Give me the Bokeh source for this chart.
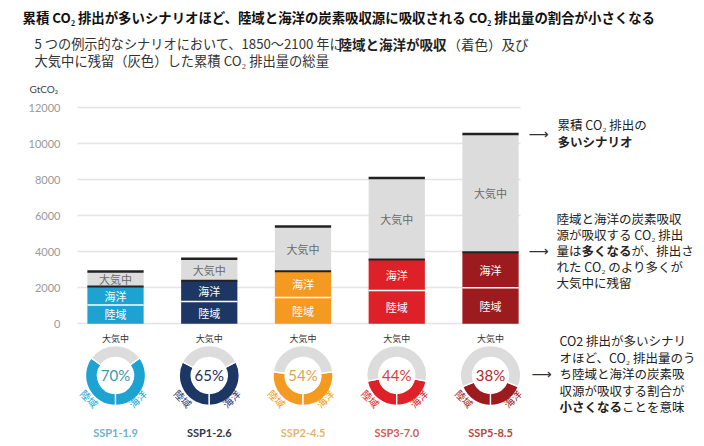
import math
from bokeh.plotting import figure
from bokeh.models import Label, Range1d, ColumnDataSource, Grid
from bokeh.core.properties import value
from bokeh.embed import file_html
from bokeh.resources import INLINE

# ---------------- data ----------------
scenarios = ["SSP1-1.9", "SSP1-2.6", "SSP2-4.5", "SSP3-7.0", "SSP5-8.5"]
land = [1050, 1240, 1460, 1850, 2000]          # GtCO2 absorbed by land
ocean = [1020, 1150, 1460, 1720, 1980]         # GtCO2 absorbed by ocean
atmosphere = [830, 1220, 2480, 4530, 6570]     # GtCO2 remaining in atmosphere
sink_pct = [70, 65, 54, 44, 38]                # % absorbed by land + ocean
y_ticks = [0, 2000, 4000, 6000, 8000, 10000, 12000]

bar_colors = ["#1ca3d2", "#1d3765", "#f49a21", "#de2128", "#9b1b1e"]
pct_colors = ["#3899b2", "#25304d", "#d7a45a", "#d9403d", "#a8292a"]
name_colors = ["#6ab4c8", "#2c374f", "#e6b468", "#d65a55", "#b4473f"]
ATM_COLOR = "#dcdcdc"

JP = "Noto Sans CJK JP"

# ---------------- layout (page pixels) ----------------
W, H = 704, 446
GRID_L, GRID_R = 77, 520
X0_PAGE, X_STEP = 115.0, 93.75
Y0_PAGE, PX_PER_UNIT = 323.3, 36.0 / 2000.0


def xdata(px):
    return (px - X0_PAGE) / X_STEP


def ydata(py):
    return (Y0_PAGE - py) / PX_PER_UNIT


p = figure(width=W, height=H,
           x_range=Range1d(xdata(0), xdata(W)),
           y_range=Range1d(ydata(H), ydata(0)),
           output_backend="svg", toolbar_location=None,
           x_axis_type=None,
           min_border_left=0, min_border_right=0,
           min_border_top=0, min_border_bottom=0)
p.outline_line_color = None
p.background_fill_color = "white"
p.border_fill_color = "white"

ax = p.yaxis[0]
ax.ticker = y_ticks
ax.fixed_location = xdata(GRID_L)
ax.axis_line_color = None
ax.major_tick_line_color = None
ax.minor_tick_line_color = None
ax.major_tick_out = 0
ax.major_label_standoff = 17
ax.major_label_text_font = "Lato"
ax.major_label_text_font_size = "11px"
ax.major_label_text_color = "#9a9a9a"

grid = p.ygrid[0]
grid.ticker = y_ticks
grid.grid_line_color = "#e4e4e4"
grid.grid_line_width = 1.5
if "cross_bounds" in Grid.properties():
    grid.cross_bounds = (xdata(GRID_L), xdata(GRID_R))
else:
    grid.visible = False
    p.segment(x0=[xdata(GRID_L)] * len(y_ticks), x1=[xdata(GRID_R)] * len(y_ticks),
              y0=y_ticks, y1=y_ticks, line_color="#e4e4e4", line_width=1.5)

# ---------------- stacked bars ----------------
xs = list(range(len(scenarios)))
land_top = land[:]
ocean_top = [l + o for l, o in zip(land, ocean)]
total = [s + a for s, a in zip(ocean_top, atmosphere)]
BW = 0.6
src = ColumnDataSource(dict(
    x=xs, land_top=land_top, ocean_top=ocean_top, total=total,
    color=bar_colors,
    land_mid=[t / 2 for t in land_top],
    ocean_mid=[(a + b) / 2 for a, b in zip(land_top, ocean_top)],
    atm_mid=[(a + b) / 2 for a, b in zip(ocean_top, total)],
    x0=[x - BW / 2 for x in xs], x1=[x + BW / 2 for x in xs],
    land_lab=["陸域"] * 5, ocean_lab=["海洋"] * 5, atm_lab=["大気中"] * 5,
))
p.vbar(x="x", bottom=0, top="land_top", width=BW, fill_color="color", line_color=None, source=src)
p.vbar(x="x", bottom="land_top", top="ocean_top", width=BW, fill_color="color", line_color=None, source=src)
p.vbar(x="x", bottom="ocean_top", top="total", width=BW, fill_color=ATM_COLOR, line_color=None, source=src)
p.segment(x0="x0", x1="x1", y0="land_top", y1="land_top", line_color="white", line_width=1.5, source=src)
p.segment(x0="x0", x1="x1", y0="ocean_top", y1="ocean_top", line_color="#222222", line_width=2, source=src)
p.segment(x0="x0", x1="x1", y0="total", y1="total", line_color="#222222", line_width=2.5, source=src)

for col_y, col_t, colr in [("land_mid", "land_lab", "white"), ("ocean_mid", "ocean_lab", "white"),
                           ("atm_mid", "atm_lab", "#6a6a6a")]:
    p.text(x="x", y=col_y, text=col_t, source=src, text_font=value(JP), text_font_size="11px",
           text_color=colr, text_align="center", text_baseline="middle")

# ---------------- donuts ----------------
DONUT_Y = ydata(375)
R_IN, R_OUT = 18, 30
wx, wy, ws, we, wc = [], [], [], [], []
for i, pct in enumerate(sink_pct):
    s = pct / 100.0
    a_left = -math.pi / 2 - s * math.pi
    a_right = -math.pi / 2 + s * math.pi
    for st, en, c in [(a_left, -math.pi / 2, bar_colors[i]),
                      (-math.pi / 2, a_right, bar_colors[i]),
                      (a_right, a_left + 2 * math.pi, ATM_COLOR)]:
        wx.append(i); wy.append(DONUT_Y); ws.append(st); we.append(en); wc.append(c)
p.annular_wedge(x=wx, y=wy, inner_radius=R_IN, outer_radius=R_OUT,
                inner_radius_units="screen", outer_radius_units="screen",
                start_angle=ws, end_angle=we, fill_color=wc,
                line_color="white", line_width=1.3)

dsrc = ColumnDataSource(dict(
    x=xs, y=[DONUT_Y] * 5,
    pct=[f"{v}%" for v in sink_pct], pct_color=pct_colors,
    name=scenarios, name_color=name_colors, ring_color=bar_colors,
    top_y=[ydata(338)] * 5, name_y=[ydata(432)] * 5,
    atm=["大気中"] * 5, land_l=["陸域"] * 5, ocean_l=["海洋"] * 5,
))
p.text(x="x", y="y", text="pct", source=dsrc, text_font=value("Lato"), text_font_size="15px",
       text_color="pct_color", text_align="center", text_baseline="middle", y_offset=-1)
p.text(x="x", y="top_y", text="atm", source=dsrc, text_font=value(JP), text_font_size="9px",
       text_color="#333333", text_align="center", text_baseline="middle")
p.text(x="x", y="y", text="land_l", source=dsrc, text_font=value(JP), text_font_size="10px",
       text_color="ring_color", text_align="center", text_baseline="middle",
       angle=-math.pi / 4, x_offset=-26, y_offset=23)
p.text(x="x", y="y", text="ocean_l", source=dsrc, text_font=value(JP), text_font_size="10px",
       text_color="ring_color", text_align="center", text_baseline="middle",
       angle=math.pi / 4, x_offset=22, y_offset=23)
p.text(x="x", y="name_y", text="name", source=dsrc, text_font=value("Lato"), text_font_size="11px",
       text_font_style="bold", text_color="name_color", text_align="center", text_baseline="middle")


# ---------------- free texts (labels in screen units) ----------------
def lab(text, px, py, size=12.5, color="#222222", bold=False, align="left", font=JP):
    p.add_layout(Label(x=px, y=H - py, x_units="screen", y_units="screen",
                       text=text, text_font=font, text_font_size=f"{size}px",
                       text_font_style="bold" if bold else "normal", text_color=color,
                       text_align=align, text_baseline="middle"))


# title
lab("累積 CO₂ 排出が多いシナリオほど、陸域と海洋の炭素吸収源に吸収される CO₂ 排出量の割合が小さくなる",
    22, 16, size=13.4, color="#111111", bold=True)
# subtitle
lab("5 つの例示的なシナリオにおいて、1850〜2100 年に", 34, 43, size=13.2, color="#333333")
lab("陸域と海洋が吸収", 338, 43, size=13.5, color="#222222", bold=True)
lab("（着色）及び", 447, 43, size=13.5, color="#333333")
lab("大気中に残留（灰色）した累積 CO₂ 排出量の総量", 34, 60, size=13.3, color="#333333")
# axis unit
lab("GtCO₂", 29, 88, size=10, color="#444444", font="Lato")

# right notes
lab("⟶", 538, 133, size=14, color="#333333", align="center", font="DejaVu Sans")
lab("累積 CO₂ 排出の", 557, 124)
lab("多いシナリオ", 557, 141, bold=True)

lab("⟶", 538, 250, size=14, color="#333333", align="center", font="DejaVu Sans")
lab("陸域と海洋の炭素吸収", 556, 218)
lab("源が吸収する CO₂ 排出", 556, 234)
lab("量は", 556, 250)
lab("多くなる", 581, 250, bold=True)
lab("が、排出さ", 631, 250)
lab("れた CO₂ のより多くが", 556, 266)
lab("大気中に残留", 556, 282)

lab("⟶", 541, 373, size=14, color="#333333", align="center", font="DejaVu Sans")
lab("CO2 排出が多いシナリ", 559, 340)
lab("オほど、CO₂ 排出量のう", 559, 357)
lab("ち陸域と海洋の炭素吸", 559, 373)
lab("収源が吸収する割合が", 559, 390)
lab("小さくなる", 559, 406, bold=True)
lab("ことを意味", 621.5, 406)

open("out.html", "w").write(file_html(p, INLINE))
